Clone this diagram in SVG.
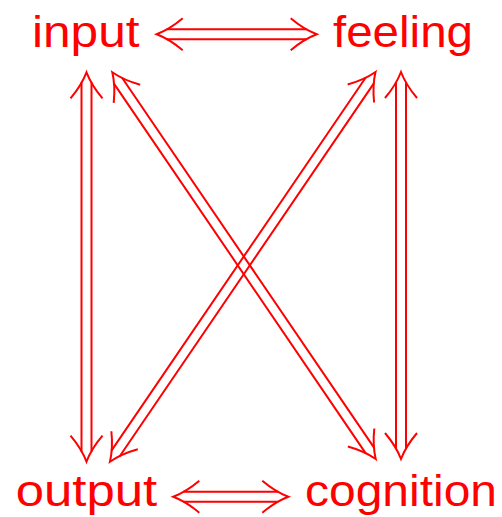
<svg xmlns="http://www.w3.org/2000/svg" xmlns:xlink="http://www.w3.org/1999/xlink" width="502" height="517" viewBox="0 0 502 517">
  <style>
    .lbl { font-family: "Liberation Sans", Arial, sans-serif; font-size: 45px; fill: #ff0000; }
    .dbl { fill: none; stroke: #ff0000; stroke-width: 2; stroke-linecap: butt; }
  </style>
  <defs>
    <path id="h" class="dbl" d="M26,-16 Q13,-5 0,0 Q13,5 26,16"/>
  </defs>
  <rect width="502" height="517" fill="#ffffff"/>

  <g id="connectors">
    <g id="input-feeling" transform="translate(156.7,34.3)">
      <path class="dbl" d="M10,-5 H150 M10,5 H150"/>
      <use xlink:href="#h" href="#h"/>
      <use xlink:href="#h" href="#h" transform="translate(160,0) scale(-1,1)"/>
    </g>
    <g id="output-cognition" transform="translate(173.3,496.7)">
      <path class="dbl" d="M10,-5 H105 M10,5 H105"/>
      <use xlink:href="#h" href="#h"/>
      <use xlink:href="#h" href="#h" transform="translate(115,0) scale(-1,1)"/>
    </g>
    <g id="input-output" transform="translate(86.5,72.3) rotate(90)">
      <path class="dbl" d="M10,-5 H379.4 M10,5 H379.4"/>
      <use xlink:href="#h" href="#h"/>
      <use xlink:href="#h" href="#h" transform="translate(389.4,0) scale(-1,1)"/>
    </g>
    <g id="feeling-cognition" transform="translate(401,72) rotate(90)">
      <path class="dbl" d="M10,-5 H377 M10,5 H377"/>
      <use xlink:href="#h" href="#h"/>
      <use xlink:href="#h" href="#h" transform="translate(387,0) scale(-1,1)"/>
    </g>
    <g id="input-cognition" transform="translate(112.3,72.3) rotate(55.74)">
      <path class="dbl" d="M10,-5 H457.9 M10,5 H457.9"/>
      <use xlink:href="#h" href="#h"/>
      <use xlink:href="#h" href="#h" transform="translate(467.9,0) scale(-1,1)"/>
    </g>
    <g id="feeling-output" transform="translate(375.5,72) rotate(124.27)">
      <path class="dbl" d="M10,-5 H461.6 M10,5 H461.6"/>
      <use xlink:href="#h" href="#h"/>
      <use xlink:href="#h" href="#h" transform="translate(471.6,0) scale(-1,1)"/>
    </g>
  </g>

  <g id="input"><text class="lbl" x="32" y="46.5" textLength="107.5" lengthAdjust="spacingAndGlyphs">input</text></g>
  <g id="feeling"><text class="lbl" x="333" y="46.5" textLength="140" lengthAdjust="spacingAndGlyphs">feeling</text></g>
  <g id="output"><text class="lbl" x="15.7" y="505.5" textLength="141.5" lengthAdjust="spacingAndGlyphs">output</text></g>
  <g id="cognition"><text class="lbl" x="305" y="505.5" textLength="192" lengthAdjust="spacingAndGlyphs">cognition</text></g>
</svg>
